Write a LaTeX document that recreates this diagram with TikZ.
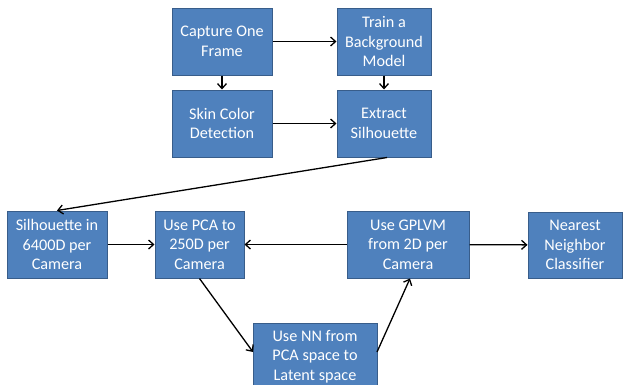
\documentclass[tikz,border=0pt]{standalone}
\usepackage{fontspec}
\setmainfont{Carlito}
\usetikzlibrary{arrows.meta,calc}
\definecolor{boxfill}{HTML}{4F81BD}
\definecolor{boxline}{HTML}{385D8A}
\tikzset{
  boxfont/.style={font=\fontsize{16.2}{19.6}\selectfont},
  stepbox/.style={draw=boxline, fill=boxfill, line width=1pt, text=white,
    align=center, inner sep=0pt, boxfont},
  flow/.style={line width=1.3pt, -{Straight Barb[length=5pt,width=9pt,line width=1.3pt]}}
}
\begin{document}
\begin{tikzpicture}[x=1pt,y=-1pt]
  \useasboundingbox (0,0) rectangle (623,384);
  \clip (0,0) rectangle (623,384);
  % upper block: capture and background model
  \node[stepbox, minimum width=100, minimum height=67] (cap) at (222,41.5) {Capture One\\Frame};
  \node[stepbox, minimum width=94, minimum height=67] (bg) at (384,41.5) {Train a\\Background\\Model};
  \node[stepbox, minimum width=100, minimum height=67] (skin) at (222,123.5) {Skin Color\\Detection};
  \node[stepbox, minimum width=94, minimum height=67] (ext) at (384,123.5) {Extract\\Silhouette};
  % lower row
  \node[stepbox, minimum width=100, minimum height=67] (sil) at (57,244.5) {Silhouette in\\6400D per\\Camera};
  \node[stepbox, minimum width=89, minimum height=67] (pca) at (199.5,244.5) {Use PCA to\\250D per\\Camera};
  \node[stepbox, minimum width=122, minimum height=67] (gp) at (408,244.5) {Use GPLVM\\from 2D per\\Camera};
  \node[stepbox, minimum width=94, minimum height=66] (nnc) at (575,245) {Nearest\\Neighbor\\Classifier};
  \node[stepbox, minimum width=124, minimum height=80, anchor=north] (nn) at (315,323) {};
  \node[text=white, align=center, inner sep=0pt, boxfont] (nnt) at (315,356.5) {Use NN from\\PCA space to\\Latent space};
  \coordinate (nnin) at (253,352);
  \coordinate (nnout) at (377,352);
  % connectors
  \draw[flow] (cap) -- (bg);
  \draw[flow] (cap) -- (skin);
  \draw[flow] (bg) -- (ext);
  \draw[flow] (skin) -- (ext);
  \draw[flow] ($(ext.south)+(3,0)$) -- (sil.north);
  \draw[flow] (sil) -- (pca);
  \draw[flow] (gp) -- (pca);
  \draw[flow] (gp) -- (nnc);
  \draw[flow] (pca.south) -- (nnin);
  \draw[flow] (nnout) -- ($(gp.south)+(2,0)$);
\end{tikzpicture}
\end{document}
